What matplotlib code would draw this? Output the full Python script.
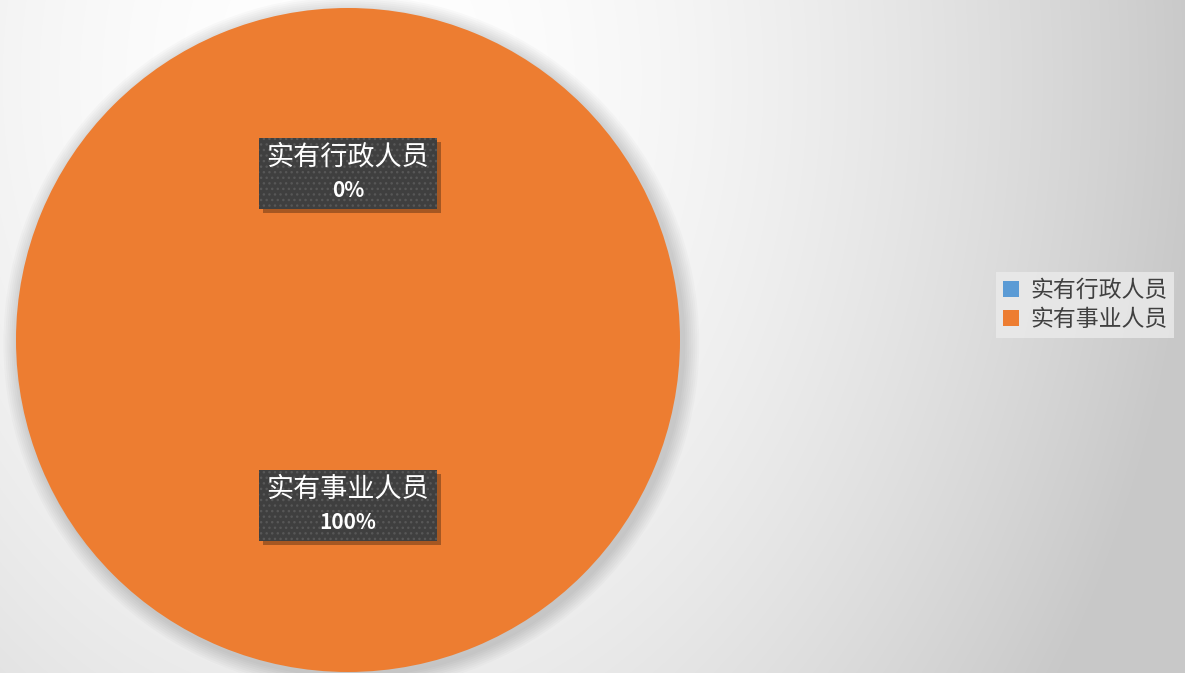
import matplotlib
matplotlib.use('Agg')
import matplotlib.pyplot as plt
import numpy as np
from matplotlib.patches import Circle, Rectangle

plt.rcParams['font.family'] = ['Noto Sans CJK SC', 'DejaVu Sans']

# 数据
labels = ['实有行政人员', '实有事业人员']
values = [0, 100]
colors = ['#5B9BD5', '#ED7D31']

W, H = 1185, 673
fig = plt.figure(figsize=(W / 100, H / 100), dpi=100)

# 背景渐变
bg = fig.add_axes([0, 0, 1, 1])
yy, xx = np.mgrid[0:H, 0:W]
r = np.sqrt(((xx - 350) / 850.0) ** 2 + ((yy - 80) / 1100.0) ** 2)
v = 255 - 55 * np.clip(r, 0, 1) ** 1.8
bg.imshow(np.dstack([v, v, v]) / 255.0, extent=[0, W, H, 0], aspect='auto')
bg.set_axis_off()

# 饼图 (半径 = 332 像素)
ax = fig.add_axes([16 / W, 1 / H, 664 / W, 664 / H])
px = 1 / 332.0
for i in range(8):
    ax.add_patch(Circle((0.01, -0.01), 1.0 + 0.006 * (8 - i), color='black',
                        alpha=0.018, lw=0, clip_on=False))
wedges, _ = ax.pie(values, colors=colors, startangle=90, counterclock=False,
                   wedgeprops=dict(linewidth=0, clip_on=False))
ax.set_xlim(-1, 1)
ax.set_ylim(-1, 1)
ax.set_aspect('equal')
ax.set_axis_off()

# 数据标签
total = sum(values)
bw, bh = 178 * px, 71 * px
for w, lab, val in zip(wedges, labels, values):
    if w.theta2 - w.theta1 == 0:
        ang = np.deg2rad(w.theta1)
    else:
        ang = np.deg2rad((w.theta1 + w.theta2) / 2)
    x, y = 0.5 * np.cos(ang), 0.5 * np.sin(ang)
    ax.add_patch(Rectangle((x - bw / 2 + 4 * px, y - bh / 2 - 4 * px), bw, bh,
                           facecolor='black', alpha=0.3, lw=0, zorder=3))
    ax.add_patch(Rectangle((x - bw / 2, y - bh / 2), bw, bh, facecolor='#3f3f3f',
                           edgecolor='#575757', hatch='...', lw=0, zorder=4))
    pct = '%d%%' % round(val / total * 100)
    ax.text(x, y + 17 * px, lab, ha='center', va='center', fontsize=19.5,
            color='white', zorder=5)
    ax.text(x, y - 17 * px, pct, ha='center', va='center', fontsize=15,
            color='white', fontweight='bold', zorder=5)

# 图例
leg = fig.legend(wedges, labels, loc='center', bbox_to_anchor=(1085 / W, 1 - 305 / H),
                 fontsize=16.5, frameon=True, handlelength=0.7, handleheight=0.7,
                 handletextpad=0.5, labelspacing=0.3, borderpad=0.3, fancybox=False)
leg.get_frame().set_facecolor('#ebebeb')
leg.get_frame().set_edgecolor('none')
for t in leg.get_texts():
    t.set_color('#404040')

fig.savefig('out.png', dpi=100)
